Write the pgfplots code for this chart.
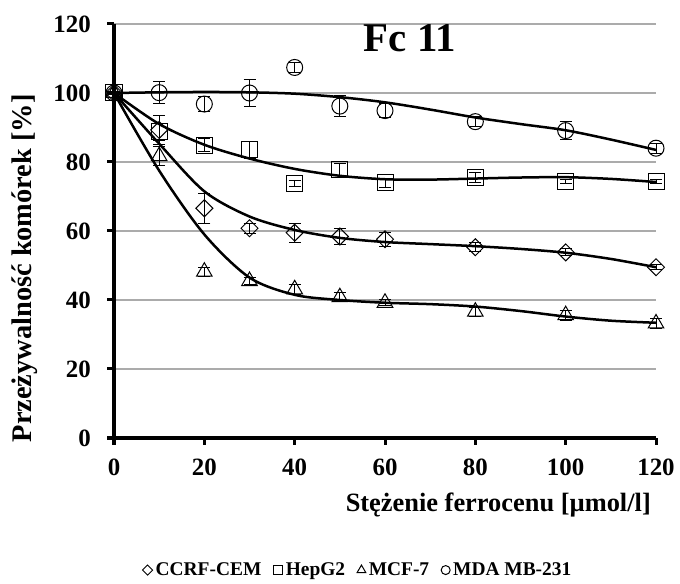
\documentclass[border=0pt]{standalone}
\usepackage{fontspec}
\setmainfont{Liberation Serif}
\usepackage{pgfplots}
\pgfplotsset{compat=1.18}
\usepackage{pgfplotstable}

\pgfplotstableread{
x y e
0 100 0.5
10 89.3 4.1
20 66.6 4.3
30 60.8 1.5
40 59.5 2.7
50 58.4 2.4
60 57.6 2.0
80 55.3 1.3
100 53.8 1.0
120 49.5 0.8
}\ccrf
\pgfplotstableread{
x y e
0 100 0.5
10 88.8 2.5
20 84.9 2.0
30 83.5 2.5
40 73.8 0.8
50 77.9 1.8
60 74.0 1.3
80 75.5 1.5
100 74.3 0.6
120 74.3 0.6
}\hepg
\pgfplotstableread{
x y e
0 100 0.5
10 81.7 2.8
20 48.2 1.3
30 45.5 1.0
40 43.1 1.5
50 40.8 1.3
60 39.2 0.8
80 36.6 1.3
100 35.6 1.5
120 33.2 1.5
}\mcf
\pgfplotstableread{
x y e
0 100 0.5
10 100.1 3.2
20 96.8 2.3
30 100.0 3.9
40 107.4 1.5
50 96.2 3.1
60 94.9 2.0
80 91.7 1.5
100 89.1 2.6
120 84.0 1.5
}\mda

\pgfplotstableread{
x y
0 100
10 85.3
20 71.5
30 64.2
40 60.3
50 58.0
60 56.8
70 56.2
80 55.6
90 54.8
100 53.7
110 51.9
120 49.5
}\ccrftr
\pgfplotstableread{
x y
0 100
10 91.0
20 85.0
30 81.0
40 78.0
50 76.0
60 75.0
70 74.9
80 75.2
90 75.5
100 75.6
110 75.1
120 74.2
}\hepgtr
\pgfplotstableread{
x y
0 100
10 77.5
20 59.0
30 46.5
40 41.5
50 40.0
60 39.2
70 38.8
80 38.1
90 36.8
100 35.2
110 34.0
120 33.4
}\mcftr
\pgfplotstableread{
x y
0 100
10 100.2
20 100.3
30 100.2
40 99.8
50 98.8
60 97.3
70 95.2
80 92.9
90 91.0
100 89.2
110 86.5
120 83.5
}\mdatr

\begin{document}
\begin{tikzpicture}
\useasboundingbox (0,0) rectangle (680bp,584bp);
\begin{axis}[
  at={(114bp,146bp)}, anchor=south west,
  scale only axis, width=542bp, height=414bp,
  xmin=0, xmax=120, ymin=0, ymax=120,
  xtick={0,20,...,120}, ytick={0,20,...,120},
  axis x line=bottom, axis y line=left,
  axis line style={line width=3bp, -},
  tick align=outside, major tick length=7bp,
  tick style={line width=3bp, black},
  ymajorgrids, grid style={line width=1.3bp, black!33},
  /pgf/number format/assume math mode=true,
  tick label style={font=\fontsize{25}{28}\selectfont\bfseries},
  yticklabel style={anchor=east, inner xsep=0pt, xshift=-16bp},
  xticklabel shift=10bp,
  clip=false,
  xlabel={Stężenie ferrocenu [µmol/l]},
  xlabel style={at={(axis description cs:0.709,-0.162)}, anchor=center, font=\fontsize{26.5}{29}\selectfont\bfseries},
  ylabel={Przeżywalność komórek [\%]},
  ylabel style={at={(axis description cs:-0.165,0.41)}, anchor=center, rotate=0, font=\fontsize{28.5}{31}\selectfont\bfseries},
  title={Fc 11},
  title style={at={(axis description cs:0.546,0.952)}, anchor=center, font=\fontsize{41}{45}\selectfont\bfseries},
  legend columns=4,
  legend style={at={(axis description cs:0.45,-0.319)}, anchor=center, draw=none, fill=none,
    font=\fontsize{19.5}{22}\selectfont\bfseries, column sep=1bp,
    /tikz/every even column/.append style={column sep=10bp}},
  legend cell align=left,
]
% trend lines
\addplot[black, line width=2.5bp, smooth, forget plot] table {\mdatr};
\addplot[black, line width=2.5bp, smooth, forget plot] table {\hepgtr};
\addplot[black, line width=2.5bp, smooth, forget plot] table {\ccrftr};
\addplot[black, line width=2.5bp, smooth, forget plot] table {\mcftr};
% markers with error bars
\addplot[black, only marks, mark=square, mark size=6bp, mark options={rotate=45, line width=1bp},
  legend image code/.code={\draw[black, line width=0.9bp, mark=square, mark size=3.6bp, mark options={rotate=45}] plot coordinates {(0.1cm,0cm)};},
  error bars/.cd, y dir=both, y explicit, error mark options={rotate=90, mark size=6bp, line width=1bp}, error bar style={line width=1bp}]
  table[y error=e] {\ccrf};
\addlegendentry{CCRF-CEM}
\addplot[black, only marks, mark=square, mark size=8bp, mark options={line width=1bp},
  legend image code/.code={\draw[black, line width=0.9bp, mark=square, mark size=4.7bp] plot coordinates {(0.1cm,0cm)};},
  error bars/.cd, y dir=both, y explicit, error mark options={rotate=90, mark size=6bp, line width=1bp}, error bar style={line width=1bp}]
  table[y error=e] {\hepg};
\addlegendentry{HepG2}
\addplot[black, only marks, mark=triangle, mark size=9bp, mark options={line width=1bp},
  legend image code/.code={\draw[black, line width=0.9bp, mark=triangle, mark size=5bp] plot coordinates {(0.1cm,0cm)};},
  error bars/.cd, y dir=both, y explicit, error mark options={rotate=90, mark size=6bp, line width=1bp}, error bar style={line width=1bp}]
  table[y error=e] {\mcf};
\addlegendentry{MCF-7}
\addplot[black, only marks, mark=o, mark size=8bp, mark options={line width=1bp},
  legend image code/.code={\draw[black, line width=0.9bp, mark=o, mark size=4.5bp] plot coordinates {(0.1cm,0cm)};},
  error bars/.cd, y dir=both, y explicit, error mark options={rotate=90, mark size=6bp, line width=1bp}, error bar style={line width=1bp}]
  table[y error=e] {\mda};
\addlegendentry{MDA MB-231}
\end{axis}
\end{tikzpicture}
\end{document}
